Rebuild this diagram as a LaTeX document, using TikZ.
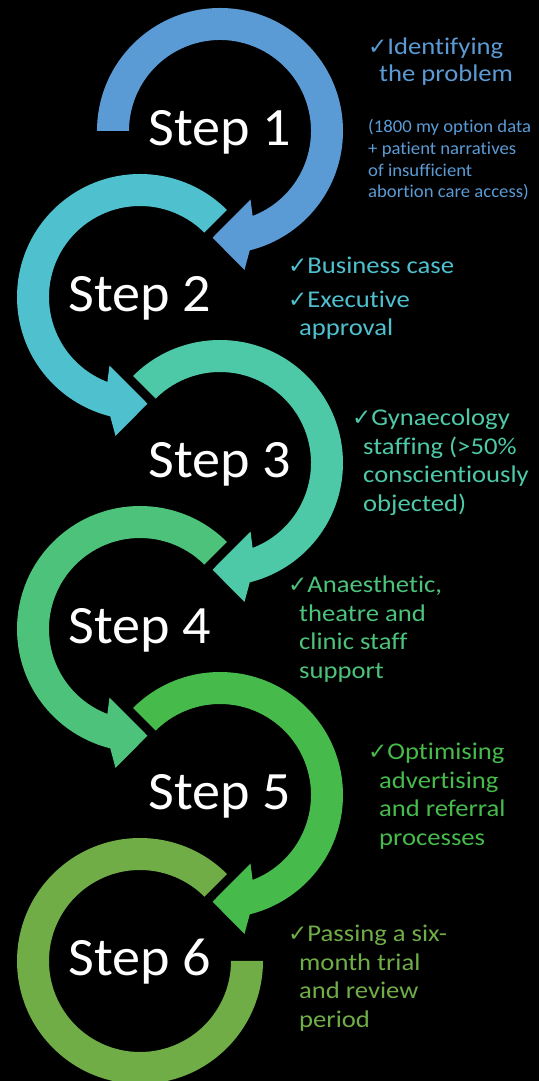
\documentclass[tikz,border=0pt]{standalone}
\usepackage{fontspec}
\setmainfont[Ligatures=NoCommon]{Carlito}
\newfontfamily\itemfont[Ligatures=NoCommon,FakeStretch=1.11]{Carlito}
\newfontfamily\smallfont[Ligatures=NoCommon,FakeStretch=1.04]{Carlito}
\newfontfamily\stepfont[Ligatures=NoCommon,FakeStretch=1.04]{Carlito}
\newfontfamily\symfont{DejaVu Sans}
\definecolor{ca}{HTML}{5B9BD5}
\definecolor{cb}{HTML}{4FC1CE}
\definecolor{cc}{HTML}{4EC9A8}
\definecolor{cd}{HTML}{4CC27A}
\definecolor{ce}{HTML}{46BA4B}
\definecolor{cf}{HTML}{70AD47}
\newcommand{\ck}{{\symfont\fontsize{23}{24}\selectfont ✓}}
\newcommand{\cwarr}[3]{% center, start angle, colour
  \fill[#3,shift={(#1)}] (#2:123) arc[start angle=#2,end angle=-76,radius=123]
    -- (-80:141) -- (-94:107) -- (-66:75) -- (-69:91)
    arc[start angle=-69,end angle=#2,radius=91] -- cycle;}
\newcommand{\ccwarr}[2]{% center, colour
  \fill[#2,shift={(#1)}] (45:123) arc[start angle=45,end angle=256,radius=123]
    -- (260:141) -- (274:107) -- (246:75) -- (249:91)
    arc[start angle=249,end angle=45,radius=91] -- cycle;}
\tikzset{
  steplabel/.style={text=white,font=\stepfont\fontsize{54}{60}\selectfont,anchor=base,inner sep=0pt},
  itemline/.style={anchor=base west,inner sep=0pt,font=\itemfont\fontsize{24}{28}\selectfont},
  smallline/.style={anchor=base west,inner sep=0pt,font=\smallfont\fontsize{18}{21}\selectfont},
}
\begin{document}
\begin{tikzpicture}[x=1pt,y=1pt]
\useasboundingbox (0,0) rectangle (539,1081);
\clip (0,0) rectangle (539,1081);
\fill[black] (0,0) rectangle (539,1081);
\coordinate (s1) at (220,950);
\coordinate (s2) at (140,784);
\coordinate (s3) at (220,618);
\coordinate (s4) at (140,452);
\coordinate (s5) at (220,286);
\coordinate (s6) at (140,120);
% arrows
\cwarr{s1}{180}{ca}
\ccwarr{s2}{cb}
\cwarr{s3}{135}{cc}
\ccwarr{s4}{cd}
\cwarr{s5}{135}{ce}
\fill[cf,shift={(s6)}] (45:123) arc[start angle=45,end angle=360,radius=123]
  -- (0:91) arc[start angle=360,end angle=45,radius=91] -- cycle;
% step labels
\node[steplabel] (l1) at (220,935) {Step 1};
\node[steplabel] (l2) at (140,769) {Step 2};
\node[steplabel] (l3) at (220,603) {Step 3};
\node[steplabel] (l4) at (140,437) {Step 4};
\node[steplabel] (l5) at (220,271) {Step 5};
\node[steplabel] (l6) at (140,105) {Step 6};
% step 1 text
\node[itemline,text=ca] (t1a) at (368,1026) {\ck Identifying};
\node[itemline,text=ca] (t1b) at (379,999) {the problem};
\node[smallline,text=ca] (t1c) at (368,948) {(1800 my option data};
\node[smallline,text=ca] (t1d) at (368,926) {+ patient narratives};
\node[smallline,text=ca] (t1e) at (368,904) {of insufficient};
\node[smallline,text=ca] (t1f) at (368,883) {abortion care access)};
% step 2 text
\node[itemline,text=cb] (t2a) at (288,807) {\ck Business case};
\node[itemline,text=cb] (t2b) at (288,773) {\ck Executive};
\node[itemline,text=cb] (t2c) at (299,745) {approval};
% step 3 text
\node[itemline,text=cc] (t3a) at (352,655) {\ck Gynaecology};
\node[itemline,text=cc] (t3b) at (363,626) {staffing (>50\%};
\node[itemline,text=cc] (t3c) at (363,598) {conscientiously};
\node[itemline,text=cc] (t3d) at (363,569) {objected)};
% step 4 text
\node[itemline,text=cd] (t4a) at (288,488) {\ck Anaesthetic,};
\node[itemline,text=cd] (t4b) at (299,459.5) {theatre and};
\node[itemline,text=cd] (t4c) at (299,431) {clinic staff};
\node[itemline,text=cd] (t4d) at (299,402.5) {support};
% step 5 text
\node[itemline,text=ce] (t5a) at (368,321) {\ck Optimising};
\node[itemline,text=ce] (t5b) at (379,292.5) {advertising};
\node[itemline,text=ce] (t5c) at (379,264) {and referral};
\node[itemline,text=ce] (t5d) at (379,235.5) {processes};
% step 6 text
\node[itemline,text=cf] (t6a) at (288,139) {\ck Passing a six-};
\node[itemline,text=cf] (t6b) at (299,110.5) {month trial};
\node[itemline,text=cf] (t6c) at (299,82) {and review};
\node[itemline,text=cf] (t6d) at (299,53.5) {period};
\end{tikzpicture}
\end{document}
